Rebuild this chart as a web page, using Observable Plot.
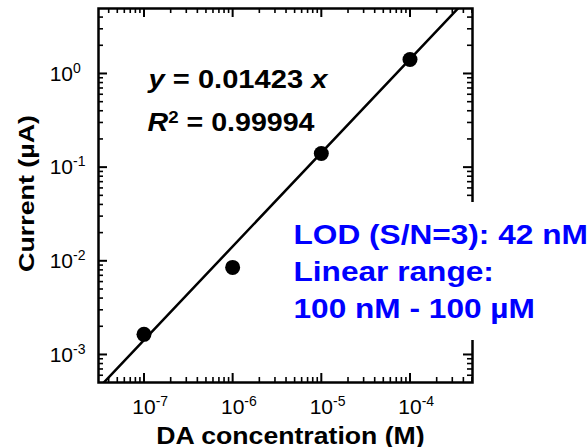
<!DOCTYPE html>
<html><head><meta charset="utf-8">
<script src="https://cdn.jsdelivr.net/npm/d3@7"></script>
<script src="https://cdn.jsdelivr.net/npm/@observablehq/plot@0.6"></script>
<style>html,body{margin:0;padding:0;background:#fff;overflow:hidden}</style>
</head><body><div id="chart"></div>
<script>
// ---- data ----
const concentrationM = [1e-7, 1e-6, 1e-5, 1e-4];
const currentUA = [0.00164, 0.0085, 0.14, 1.41];
const fitSlope = 0.01423; // µA per µM
const fitLabel = "0.01423";
const r2Label = "0.99994";
const xTickValues = [1e-7, 1e-6, 1e-5, 1e-4];
const xTickExps = ["-7", "-6", "-5", "-4"];
const yTickValues = [1e-3, 1e-2, 1e-1, 1];
const yTickExps = ["-3", "-2", "-1", "0"];
const xDomain = [3.07e-8, 5.07e-4];
const yDomain = [5.02e-4, 4.94];
const infoLines = ["LOD (S/N=3): 42 nM", "Linear range:", "100 nM - 100 µM"];
const xTitle = "DA concentration (M)";
const yTitle = "Current (µA)";

// ---- layout ----
const W = 587, H = 447, mL = 98, mT = 8, mR = 115, mB = 65;
const innerW = W - mL - mR, innerH = H - mT - mB;
const font = "'Liberation Sans', Arial, Helvetica, sans-serif";
const blue = "#0000ff";

const points = concentrationM.map((c, i) => ({c, y: currentUA[i]}));
const fit = xDomain.map(c => ({c, y: fitSlope * c * 1e6}));
const isDecade = d => Math.abs(Math.log10(d) - Math.round(Math.log10(d))) < 1e-9;
const xMinor = d3.scaleLog().domain(xDomain).ticks().filter(d => !isDecade(d));
const yMinor = d3.scaleLog().domain(yDomain).ticks().filter(d => !isDecade(d));
const xMajor = d3.scaleLog().domain(xDomain).ticks().filter(isDecade);
const yMajor = d3.scaleLog().domain(yDomain).ticks().filter(isDecade);
const ident = d => d;
const infoText = infoLines.join("\n");

const plot = Plot.plot({
  width: W, height: H,
  marginLeft: mL, marginRight: mR, marginTop: mT, marginBottom: mB,
  x: {type: "log", domain: xDomain, axis: null},
  y: {type: "log", domain: yDomain, axis: null},
  style: {fontFamily: font, background: "white", color: "black", overflow: "hidden"},
  marks: [
    Plot.frame({stroke: "black", strokeWidth: 2.5}),
    // inward ticks, all four sides
    Plot.tickX(xMajor, {x: ident, insetTop: innerH - 9, strokeWidth: 2}),
    Plot.tickX(xMajor, {x: ident, insetBottom: innerH - 9, strokeWidth: 2}),
    Plot.tickX(xMinor, {x: ident, insetTop: innerH - 5, strokeWidth: 1.6}),
    Plot.tickX(xMinor, {x: ident, insetBottom: innerH - 5, strokeWidth: 1.6}),
    Plot.tickY(yMajor, {y: ident, insetRight: innerW - 9, strokeWidth: 2}),
    Plot.tickY(yMajor, {y: ident, insetLeft: innerW - 9, strokeWidth: 2}),
    Plot.tickY(yMinor, {y: ident, insetRight: innerW - 5, strokeWidth: 1.6}),
    Plot.tickY(yMinor, {y: ident, insetLeft: innerW - 5, strokeWidth: 1.6}),
    // white knock-out behind the blue annotation (hides the frame there)
    Plot.text([infoText], {text: ident, frameAnchor: "top-left", dx: 195, dy: 309,
      lineAnchor: "bottom", lineHeight: 1.32, textAnchor: "start", fontSize: 28, fontWeight: "bold",
      fill: "white", stroke: "white", strokeWidth: 44, strokeLinejoin: "round", ariaDescription: "info-halo"}),
    // fit line and data
    Plot.line(fit, {x: "c", y: "y", stroke: "black", strokeWidth: 2.5, clip: true}),
    Plot.dot(points, {x: "c", y: "y", r: 7.5, fill: "black", stroke: "none"}),
    // annotations
    Plot.text(["y = " + fitLabel + " x"], {text: ident, frameAnchor: "top-left", dx: 50, dy: 79,
      lineAnchor: "bottom", textAnchor: "start", fontSize: 26, fontWeight: "bold", fill: "black", ariaDescription: "equation"}),
    Plot.text(["R2 = " + r2Label], {text: ident, frameAnchor: "top-left", dx: 49, dy: 122,
      lineAnchor: "bottom", textAnchor: "start", fontSize: 26, fontWeight: "bold", fill: "black", ariaDescription: "r2"}),
    Plot.text([infoText], {text: ident, frameAnchor: "top-left", dx: 195, dy: 309,
      lineAnchor: "bottom", lineHeight: 1.32, textAnchor: "start", fontSize: 28, fontWeight: "bold",
      fill: blue, ariaDescription: "info"}),
    // tick labels (10 with superscript exponent)
    Plot.text(xTickValues, {x: ident, text: () => "10", frameAnchor: "bottom", dy: 31,
      lineAnchor: "bottom", textAnchor: "middle", fontSize: 21, fill: "black"}),
    Plot.text(xTickValues, {x: ident, text: (d, i) => xTickExps[i], frameAnchor: "bottom", dx: 11.7, dy: 23,
      lineAnchor: "bottom", textAnchor: "start", fontSize: 14, fill: "black"}),
    Plot.text(yTickValues, {y: ident, text: () => "10", frameAnchor: "left", dx: -25.5, dy: 7.3,
      lineAnchor: "bottom", textAnchor: "end", fontSize: 21, fill: "black"}),
    Plot.text(yTickValues, {y: ident, text: (d, i) => yTickExps[i], frameAnchor: "left", dx: -25.5, dy: -0.7,
      lineAnchor: "bottom", textAnchor: "start", fontSize: 14, fill: "black"}),
    // axis titles
    Plot.text([xTitle], {text: ident, frameAnchor: "bottom", dx: 5, dy: 61, lineAnchor: "bottom",
      textAnchor: "middle", fontSize: 24, fontWeight: "bold", fill: "black", ariaDescription: "x-title"}),
    Plot.text([yTitle], {text: ident, frameAnchor: "left", dx: -65, dy: -2, rotate: -90, lineAnchor: "bottom",
      textAnchor: "middle", fontSize: 22, fontWeight: "bold", fill: "black", ariaDescription: "y-title"})
  ]
});

document.getElementById("chart").appendChild(plot);

const SVGNS = "http://www.w3.org/2000/svg";
const sel = label => plot.querySelectorAll(`[aria-description="${label}"] text`);

// rich text: italic variables and superscript
function rich(label, parts) {
  const t = sel(label)[0];
  if (!t) return;
  t.textContent = "";
  t.style.whiteSpace = "pre";
  for (const p of parts) {
    const ts = document.createElementNS(SVGNS, "tspan");
    ts.textContent = p.t;
    if (p.italic) ts.setAttribute("font-style", "italic");
    if (p.size) ts.setAttribute("font-size", p.size);
    if (p.dy) ts.setAttribute("dy", p.dy);
    t.appendChild(ts);
  }
}
rich("equation", [{t: "y", italic: true}, {t: " = " + fitLabel + " "}, {t: "x", italic: true}]);
rich("r2", [{t: "R", italic: true}, {t: "2", size: 17, dy: -8}, {t: " = " + r2Label, dy: 8}]);

// horizontal glyph widening to match the reference's proportions
const stretch = {"equation": 1.12, "r2": 1.10, "info": 1.13, "info-halo": 1.13, "x-title": 1.11, "y-title": 1.22};
for (const [label, s] of Object.entries(stretch)) {
  sel(label).forEach(t => {
    const tr = t.getAttribute("transform") || "";
    t.setAttribute("transform", `${tr} scale(${s},1)`);
  });
}
</script>
</body></html>
